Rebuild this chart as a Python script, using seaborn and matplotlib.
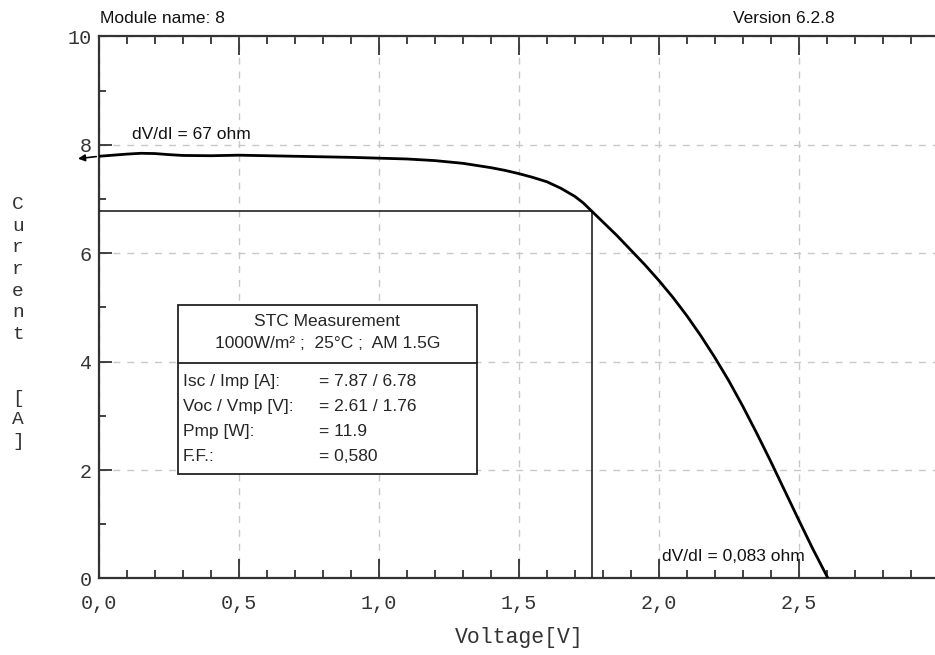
import seaborn as sns
import matplotlib.pyplot as plt
import pandas as pd
from matplotlib.patches import Rectangle

# IV curve
voltage = [0.0, 0.05, 0.1, 0.15, 0.2, 0.25, 0.3, 0.4, 0.5, 0.6, 0.7, 0.8, 0.9, 1.0,
           1.1, 1.2, 1.3, 1.4, 1.45, 1.5, 1.55, 1.6, 1.65, 1.7, 1.73, 1.76,
           1.8, 1.85, 1.9, 1.95, 2.0, 2.05, 2.1, 2.15, 2.2, 2.25, 2.3, 2.35,
           2.4, 2.45, 2.5, 2.55, 2.605]
current = [7.79, 7.81, 7.83, 7.845, 7.84, 7.82, 7.805, 7.80, 7.81, 7.80, 7.79, 7.78, 7.77, 7.755,
           7.74, 7.71, 7.66, 7.58, 7.53, 7.47, 7.40, 7.32, 7.20, 7.05, 6.93, 6.78,
           6.58, 6.33, 6.06, 5.79, 5.50, 5.19, 4.85, 4.48, 4.08, 3.65, 3.18, 2.68,
           2.16, 1.62, 1.08, 0.55, 0.0]
vmp = 1.76
imp = 6.78

x_ticks = [0.0, 0.5, 1.0, 1.5, 2.0, 2.5]
x_labels = ["0,0", "0,5", "1,0", "1,5", "2,0", "2,5"]
y_ticks = [0, 2, 4, 6, 8, 10]

box_title = "STC Measurement"
box_cond = "1000W/m² ;  25°C ;  AM 1.5G"
row_labels = ["Isc / Imp [A]:", "Voc / Vmp [V]:", "Pmp [W]:", "F.F.:"]
row_values = ["= 7.87 / 6.78", "= 2.61 / 1.76", "= 11.9", "= 0,580"]

df = pd.DataFrame({"V": voltage, "I": current})

sns.set_theme(style="ticks")
plt.rcParams["font.family"] = ["Liberation Sans", "DejaVu Sans"]
mono = ["Liberation Mono", "DejaVu Sans Mono"]
dark = "#333333"
fs = 12.5

fig = plt.figure(figsize=(9.35, 6.55), dpi=100)
ax = fig.add_axes([0.1059, 0.1168, 0.898, 0.8275])

ax.grid(True, which="major", color="#c8c8c8", linestyle=(0, (5, 5)), linewidth=1)

sns.lineplot(data=df, x="V", y="I", ax=ax, color="black", linewidth=2,
             estimator=None, zorder=5)
ax.plot([0, vmp, vmp], [imp, imp, 0], color="#222222", linewidth=1.2, zorder=4)

# little arrow at the start of the curve
ax.annotate("", xy=(voltage[0] - 0.085, current[0] - 0.05), xytext=(voltage[0], current[0]),
            arrowprops=dict(arrowstyle="-|>", color="black", lw=1.2, mutation_scale=10),
            annotation_clip=False)

ax.set_xlim(0, 3.0)
ax.set_ylim(0, 10)
ax.set_xticks(x_ticks)
ax.set_xticklabels(x_labels, fontfamily=mono, fontsize=14.5, color=dark)
ax.set_xticks([i / 10 for i in range(30)], minor=True)
ax.set_yticks(y_ticks)
ax.set_yticklabels([str(t) for t in y_ticks], fontfamily=mono, fontsize=14.5, color=dark)
ax.set_yticks(range(11), minor=True)
ax.set_xlabel("Voltage[V]", fontfamily=mono, fontsize=15.5, color=dark, labelpad=10)
ax.set_ylabel("")

ax.tick_params(axis="x", which="major", direction="in", length=14, width=1.3,
               top=True, bottom=True, color=dark, pad=11)
ax.tick_params(axis="x", which="minor", direction="in", length=6, width=1.3,
               top=True, bottom=True, color=dark)
ax.tick_params(axis="y", which="major", direction="in", length=9, width=1.3,
               left=True, right=False, color=dark, pad=5)
ax.tick_params(axis="y", which="minor", direction="in", length=5, width=1.3,
               left=True, right=False, color=dark)
for s in ax.spines.values():
    s.set_visible(True)
    s.set_color(dark)
    s.set_linewidth(1.6)

# stacked y label
fig.text(0.019, 0.5885, "\n".join("Current"), fontfamily=mono, fontsize=14,
         color=dark, ha="center", va="center", linespacing=1.36)
fig.text(0.019, 0.3588, "\n".join("[A]"), fontfamily=mono, fontsize=14,
         color=dark, ha="center", va="center", linespacing=1.36)

fig.text(0.107, 0.972, "Module name: 8", fontsize=fs, color="#111111", va="center")
fig.text(0.893, 0.972, "Version 6.2.8", fontsize=fs, color="#111111", va="center", ha="right")

ax.text(0.118, 8.2, "dV/dI = 67 ohm", fontsize=fs, color="#111111", va="center")
ax.text(2.01, 0.40, "dV/dI = 0,083 ohm", fontsize=fs, color="#111111", va="center")

# STC measurement box
ax.add_patch(Rectangle((0.282, 1.93), 1.068, 3.12, facecolor="white",
                       edgecolor="#222222", linewidth=1.3, zorder=6))
ax.plot([0.282, 1.35], [3.985, 3.985], color="#222222", linewidth=1.3, zorder=7)
ax.text(0.816, 4.75, box_title, fontsize=fs, ha="center", va="center", zorder=8)
ax.text(0.816, 4.33, box_cond, fontsize=fs, ha="center", va="center", zorder=8)
row_y = [3.63, 3.18, 2.71, 2.25]
for yy, lab, val in zip(row_y, row_labels, row_values):
    ax.text(0.30, yy, lab, fontsize=fs, va="center", zorder=8)
    ax.text(0.786, yy, val, fontsize=fs, va="center", zorder=8)

fig.savefig("out.png", dpi=100)
